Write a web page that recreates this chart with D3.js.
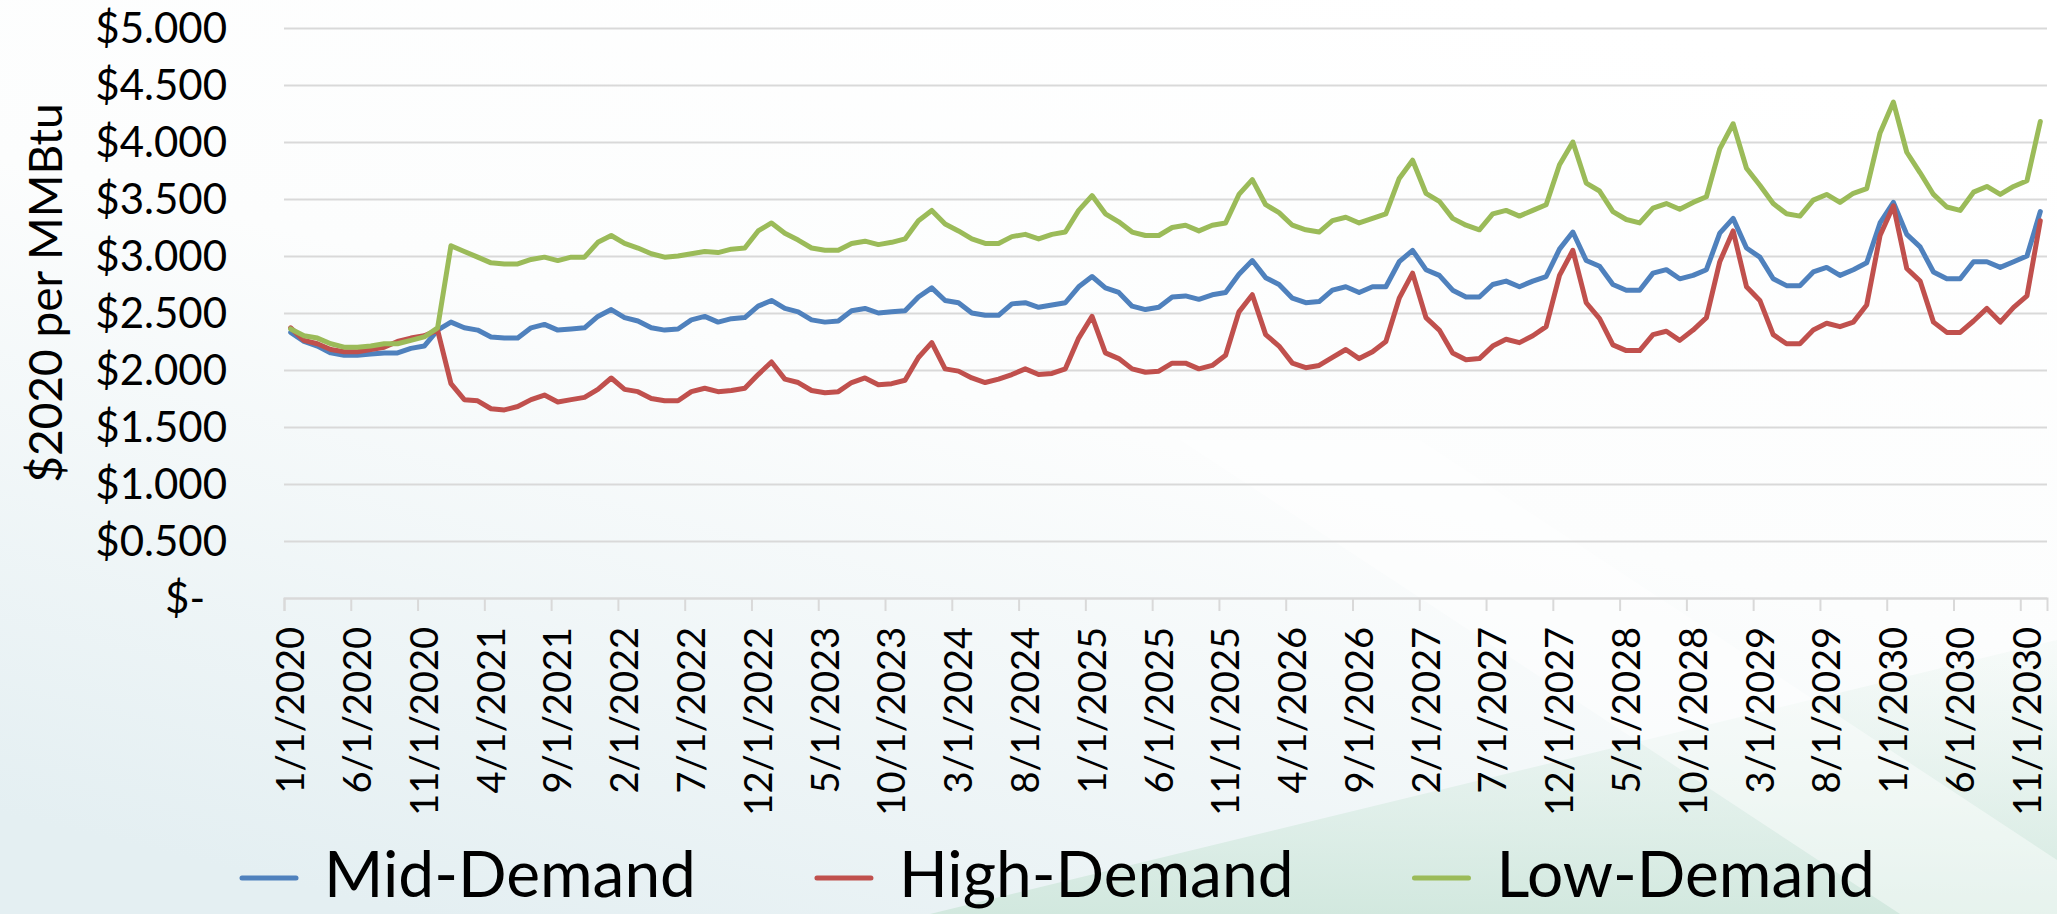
<!DOCTYPE html>
<html><head><meta charset="utf-8">
<script src="https://cdn.jsdelivr.net/npm/d3@7"></script>
<style>html,body{margin:0;padding:0;overflow:hidden;background:#fff}</style>
</head><body>
<svg id="chart" width="2057" height="914"></svg>
<script>
// ---------------- DATA ----------------
const categories = [
"1/1/2020","2/1/2020","3/1/2020","4/1/2020","5/1/2020","6/1/2020","7/1/2020","8/1/2020","9/1/2020","10/1/2020","11/1/2020","12/1/2020",
"1/1/2021","2/1/2021","3/1/2021","4/1/2021","5/1/2021","6/1/2021","7/1/2021","8/1/2021","9/1/2021","10/1/2021","11/1/2021","12/1/2021",
"1/1/2022","2/1/2022","3/1/2022","4/1/2022","5/1/2022","6/1/2022","7/1/2022","8/1/2022","9/1/2022","10/1/2022","11/1/2022","12/1/2022",
"1/1/2023","2/1/2023","3/1/2023","4/1/2023","5/1/2023","6/1/2023","7/1/2023","8/1/2023","9/1/2023","10/1/2023","11/1/2023","12/1/2023",
"1/1/2024","2/1/2024","3/1/2024","4/1/2024","5/1/2024","6/1/2024","7/1/2024","8/1/2024","9/1/2024","10/1/2024","11/1/2024","12/1/2024",
"1/1/2025","2/1/2025","3/1/2025","4/1/2025","5/1/2025","6/1/2025","7/1/2025","8/1/2025","9/1/2025","10/1/2025","11/1/2025","12/1/2025",
"1/1/2026","2/1/2026","3/1/2026","4/1/2026","5/1/2026","6/1/2026","7/1/2026","8/1/2026","9/1/2026","10/1/2026","11/1/2026","12/1/2026",
"1/1/2027","2/1/2027","3/1/2027","4/1/2027","5/1/2027","6/1/2027","7/1/2027","8/1/2027","9/1/2027","10/1/2027","11/1/2027","12/1/2027",
"1/1/2028","2/1/2028","3/1/2028","4/1/2028","5/1/2028","6/1/2028","7/1/2028","8/1/2028","9/1/2028","10/1/2028","11/1/2028","12/1/2028",
"1/1/2029","2/1/2029","3/1/2029","4/1/2029","5/1/2029","6/1/2029","7/1/2029","8/1/2029","9/1/2029","10/1/2029","11/1/2029","12/1/2029",
"1/1/2030","2/1/2030","3/1/2030","4/1/2030","5/1/2030","6/1/2030","7/1/2030","8/1/2030","9/1/2030","10/1/2030","11/1/2030","12/1/2030"
];

const xTickLabels = ["1/1/2020","6/1/2020","11/1/2020","4/1/2021","9/1/2021","2/1/2022","7/1/2022","12/1/2022",
"5/1/2023","10/1/2023","3/1/2024","8/1/2024","1/1/2025","6/1/2025","11/1/2025","4/1/2026","9/1/2026","2/1/2027",
"7/1/2027","12/1/2027","5/1/2028","10/1/2028","3/1/2029","8/1/2029","1/1/2030","6/1/2030","11/1/2030"];

const yTickValues = [0, 0.5, 1, 1.5, 2, 2.5, 3, 3.5, 4, 4.5, 5];

const midDemand = [
2.33,2.25,2.21,2.15,2.13,2.13,2.14,2.15,2.15,2.19,2.21,2.35,
2.42,2.37,2.35,2.29,2.28,2.28,2.37,2.40,2.35,2.36,2.37,2.47,
2.53,2.46,2.43,2.37,2.35,2.36,2.44,2.47,2.42,2.45,2.46,2.56,
2.61,2.54,2.51,2.44,2.42,2.43,2.52,2.54,2.50,2.51,2.52,2.64,
2.72,2.61,2.59,2.50,2.48,2.48,2.58,2.59,2.55,2.57,2.59,2.73,
2.82,2.72,2.68,2.56,2.53,2.55,2.64,2.65,2.62,2.66,2.68,2.84,
2.96,2.81,2.75,2.63,2.59,2.60,2.70,2.73,2.68,2.73,2.73,2.95,
3.05,2.88,2.83,2.70,2.64,2.64,2.75,2.78,2.73,2.78,2.82,3.06,
3.21,2.96,2.91,2.75,2.70,2.70,2.85,2.88,2.80,2.83,2.88,3.20,
3.33,3.07,2.99,2.80,2.74,2.74,2.86,2.90,2.83,2.88,2.94,3.29,
3.47,3.19,3.08,2.86,2.80,2.80,2.95,2.95,2.90,2.95,3.00,3.39];

const highDemand = [
2.37,2.26,2.23,2.18,2.16,2.16,2.18,2.20,2.25,2.28,2.30,2.35,
1.88,1.74,1.73,1.66,1.65,1.68,1.74,1.78,1.72,1.74,1.76,1.83,
1.93,1.83,1.81,1.75,1.73,1.73,1.81,1.84,1.81,1.82,1.84,1.96,
2.07,1.92,1.89,1.82,1.80,1.81,1.89,1.93,1.87,1.88,1.91,2.11,
2.24,2.01,1.99,1.93,1.89,1.92,1.96,2.01,1.96,1.97,2.01,2.28,
2.47,2.15,2.10,2.01,1.98,1.99,2.06,2.06,2.01,2.04,2.13,2.51,
2.66,2.31,2.21,2.06,2.02,2.04,2.11,2.18,2.10,2.16,2.25,2.63,
2.85,2.46,2.35,2.15,2.09,2.10,2.21,2.27,2.24,2.30,2.38,2.83,
3.05,2.59,2.45,2.22,2.17,2.17,2.31,2.34,2.26,2.35,2.46,2.95,
3.22,2.73,2.61,2.31,2.23,2.23,2.35,2.41,2.38,2.42,2.57,3.18,
3.44,2.89,2.78,2.42,2.33,2.33,2.43,2.54,2.42,2.55,2.65,3.31];

const lowDemand = [
2.36,2.30,2.28,2.23,2.20,2.20,2.21,2.23,2.23,2.26,2.29,2.37,
3.09,3.04,2.99,2.94,2.93,2.93,2.97,2.99,2.96,2.99,2.99,3.12,
3.18,3.11,3.07,3.02,2.99,3.00,3.02,3.04,3.03,3.06,3.07,3.22,
3.29,3.20,3.14,3.07,3.05,3.05,3.11,3.13,3.10,3.12,3.15,3.31,
3.40,3.28,3.22,3.15,3.11,3.11,3.17,3.19,3.15,3.19,3.21,3.40,
3.53,3.37,3.30,3.21,3.18,3.18,3.25,3.27,3.22,3.27,3.29,3.54,
3.67,3.45,3.38,3.27,3.23,3.21,3.31,3.34,3.29,3.33,3.37,3.68,
3.84,3.55,3.48,3.33,3.27,3.23,3.37,3.40,3.35,3.40,3.45,3.80,
4.00,3.64,3.57,3.39,3.32,3.29,3.42,3.46,3.41,3.47,3.52,3.94,
4.16,3.77,3.62,3.46,3.37,3.35,3.49,3.54,3.47,3.55,3.59,4.08,
4.35,3.91,3.73,3.54,3.43,3.40,3.56,3.61,3.54,3.61,3.66,4.18];

const seriesNames = ["Mid-Demand", "High-Demand", "Low-Demand"];
const seriesColors = ["#4F81BD", "#C0504D", "#9BBB59"];
const yAxisTitle = "$2020 per MMBtu";

// ---------------- LAYOUT ----------------
const W = 2057, H = 914;
const plot = {left: 284, right: 2047, top: 28, bottom: 598};
const FONT = "Lato, 'Open Sans', 'DejaVu Sans', sans-serif";

const svg = d3.select("#chart");

// background
const defs = svg.append("defs");
const g1 = defs.append("linearGradient").attr("id","bg").attr("x1","0.75").attr("y1","0").attr("x2","0.2").attr("y2","1");
g1.append("stop").attr("offset","0").attr("stop-color","#ffffff");
g1.append("stop").attr("offset","0.45").attr("stop-color","#fcfdfd");
g1.append("stop").attr("offset","1").attr("stop-color","#e4eff2");
svg.append("rect").attr("width",W).attr("height",H).attr("fill","url(#bg)");
const g2 = defs.append("linearGradient").attr("id","gr").attr("x1","0").attr("y1","0").attr("x2","0").attr("y2","1");
g2.append("stop").attr("offset","0").attr("stop-color","#e2f1ea").attr("stop-opacity","0.2");
g2.append("stop").attr("offset","1").attr("stop-color","#cfe7dc").attr("stop-opacity","0.9");
svg.append("polygon").attr("points","930,914 2057,640 2057,914").attr("fill","url(#gr)");
svg.append("polygon").attr("points","1180,440 1420,440 2057,860 2057,914 1900,914").attr("fill","#ffffff").attr("opacity",0.45);

// scales
const x = d3.scaleBand().domain(categories).range([plot.left, plot.right]).padding(0);
const xb = d3.scaleLinear().domain([0, categories.length]).range([plot.left, plot.right]);
const y = d3.scaleLinear().domain([0, 5]).range([plot.bottom, plot.top]);

// gridlines
const grid = svg.append("g").attr("transform", `translate(${plot.left},0)`)
  .call(d3.axisLeft(y).tickValues(yTickValues).tickSize(-(plot.right - plot.left)).tickFormat(""));
grid.select(".domain").remove();
grid.selectAll(".tick line").attr("stroke", "#d9d9d9").attr("stroke-width", 2);

// y tick labels
const yAx = svg.append("g").attr("transform", `translate(${plot.left},0)`)
  .call(d3.axisLeft(y).tickValues(yTickValues).tickSize(0).tickPadding(57)
    .tickFormat(v => v === 0 ? "$-" : "$" + d3.format(".3f")(v)));
yAx.select(".domain").remove();
yAx.selectAll(".tick text").attr("font-family", FONT).attr("font-size", 42).attr("fill", "#000")
  .attr("dy", "0.35em")
  .filter(v => v === 0).attr("dx", -22);

// x tick marks at category boundaries
const xTicks = svg.append("g").attr("transform", `translate(0,${plot.bottom})`)
  .call(d3.axisBottom(xb).tickValues(xTickLabels.map(l => categories.indexOf(l))).tickSize(13).tickFormat(""));
xTicks.select(".domain").attr("stroke", "#d9d9d9").attr("stroke-width", 2);
xTicks.selectAll(".tick line").attr("stroke", "#d9d9d9").attr("stroke-width", 2);

// x labels at category centres
const xAx = svg.append("g").attr("transform", `translate(0,${plot.bottom})`)
  .call(d3.axisBottom(x).tickValues(xTickLabels).tickSize(0));
xAx.select(".domain").remove();
xAx.selectAll(".tick text")
  .attr("font-family", FONT).attr("font-size", 38).attr("fill", "#000")
  .attr("transform", "rotate(-90)").attr("text-anchor", "end")
  .attr("x", -29).attr("y", 0).attr("dy", "0.36em");

// y axis title
svg.append("text").attr("transform", "translate(62,293) rotate(-90)")
  .attr("text-anchor", "middle").attr("font-family", FONT).attr("font-size", 46).attr("fill", "#000")
  .text(yAxisTitle);

// lines
const allSeries = [midDemand, highDemand, lowDemand];
const line = d3.line()
  .x((d, i) => x(categories[i]) + x.bandwidth() / 2)
  .y(d => y(d));
svg.append("g").selectAll("path").data(allSeries).join("path")
  .attr("d", line).attr("fill", "none")
  .attr("stroke", (d, i) => seriesColors[i])
  .attr("stroke-width", 5).attr("stroke-linejoin", "round").attr("stroke-linecap", "round");

// legend
const leg = svg.append("g").attr("transform", "translate(242,878)");
let lx = 0;
seriesNames.forEach((name, i) => {
  leg.append("line").attr("x1", lx).attr("x2", lx + 54).attr("y1", 0).attr("y2", 0)
    .attr("stroke", seriesColors[i]).attr("stroke-width", 5).attr("stroke-linecap", "round");
  const t = leg.append("text").attr("x", lx + 82).attr("y", 19)
    .attr("font-family", FONT).attr("font-size", 64).attr("fill", "#000").text(name);
  lx += 82 + t.node().getComputedTextLength() + 121;
});
</script>
</body></html>
